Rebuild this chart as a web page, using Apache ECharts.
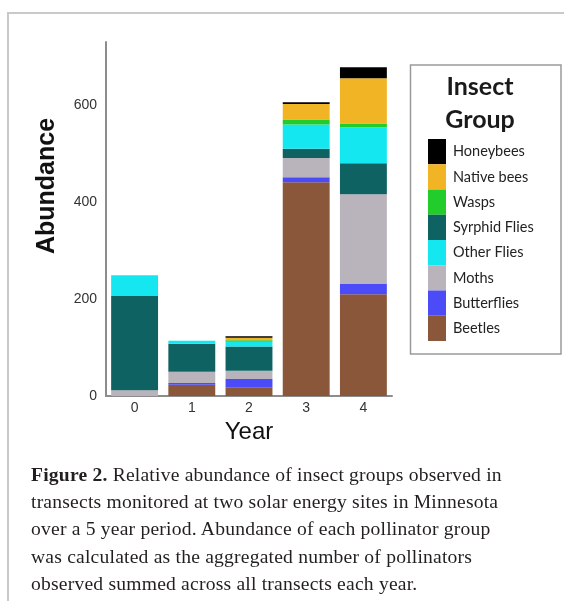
<!DOCTYPE html>
<html>
<head>
<meta charset="utf-8">
<script src="https://cdn.jsdelivr.net/npm/echarts@6/dist/echarts.min.js"></script>
<style>
  html, body { margin: 0; padding: 0; background: #fff; }
  #wrap { position: relative; width: 564px; height: 601px; overflow: hidden; }
  #frame { position: absolute; left: 7px; top: 12px; right: 0; bottom: 0;
           border-left: 2px solid #c9c9c9; border-top: 2px solid #c9c9c9; }
  #chart { position: absolute; left: 0; top: 0; width: 564px; height: 601px; }
  #caption { position: absolute; left: 31px; top: 461px; width: 530px;
             font-family: "Liberation Serif", "DejaVu Serif", serif; font-size: 19.6px;
             letter-spacing: 0.2px; line-height: 27.2px; color: #231f20; white-space: nowrap; }
</style>
</head>
<body>
<div id="wrap">
  <div id="frame"></div>
  <div id="chart"></div>
  <div id="caption"><b>Figure 2.</b> Relative abundance of insect groups observed in<br>transects monitored at two solar energy sites in Minnesota<br>over a 5 year period. Abundance of each pollinator group<br>was calculated as the aggregated number of pollinators<br>observed summed across all transects each year.</div>
</div>
<script>
const years = ['0', '1', '2', '3', '4'];
const beetles     = [0, 23, 17, 441, 210];
const butterflies = [0, 4, 18, 10, 21];
const moths       = [12, 23, 17, 40, 185];
const syrphidFlies= [194, 58, 50, 19, 64];
const otherFlies  = [43, 6, 10, 50, 74];
const wasps       = [0, 0, 3, 10, 8];
const nativeBees  = [0, 0, 5, 32, 93];
const honeybees   = [0, 0, 3, 4, 23];
const yTicks = [0, 200, 400, 600];

const stackOrder = [
  ['Beetles', beetles, '#8b573a'],
  ['Butterflies', butterflies, '#4b4cf7'],
  ['Moths', moths, '#b9b3bc'],
  ['Syrphid Flies', syrphidFlies, '#0e6262'],
  ['Other Flies', otherFlies, '#14e7f0'],
  ['Wasps', wasps, '#22cc2a'],
  ['Native bees', nativeBees, '#f0b424'],
  ['Honeybees', honeybees, '#000000']
];
const legendOrder = ['Honeybees', 'Native bees', 'Wasps', 'Syrphid Flies', 'Other Flies', 'Moths', 'Butterflies', 'Beetles'];

const chart = echarts.init(document.getElementById('chart'), null, { renderer: 'canvas' });
chart.setOption({
  animation: false,
  backgroundColor: 'transparent',
  grid: { left: 106, right: 172, top: 42, bottom: 205, containLabel: false },
  title: {
    text: 'Insect\nGroup',
    left: 475, top: 65, textAlign: 'center',
    textStyle: { fontFamily: 'Lato', fontWeight: 'bold', fontSize: 25, lineHeight: 33, color: '#1a1a1a' }
  },
  legend: {
    orient: 'vertical', left: 428, top: 139, padding: 0,
    itemWidth: 18, itemHeight: 25.25, itemGap: 0, icon: 'rect',
    data: legendOrder,
    selectedMode: false,
    textStyle: { fontFamily: 'Lato', fontSize: 14.5, color: '#222', padding: [0, 0, 0, 2] }
  },
  graphic: [{
    type: 'rect',
    shape: { x: 410.5, y: 65, width: 150.5, height: 289 },
    style: { fill: 'none', stroke: '#9a9a9a', lineWidth: 1.5 }
  }],
  xAxis: {
    type: 'category', data: years,
    name: 'Year', nameLocation: 'middle', nameGap: 22,
    nameTextStyle: { fontFamily: 'Liberation Sans', fontSize: 24, color: '#111' },
    axisLine: { lineStyle: { color: '#8c8c8c', width: 2 } },
    axisTick: { show: false },
    axisLabel: { fontFamily: 'Liberation Sans', fontSize: 14, color: '#333', margin: 5 }
  },
  yAxis: {
    type: 'value', min: 0, max: 730, interval: 200,
    name: 'Abundance', nameLocation: 'middle', nameGap: 46,
    nameTextStyle: { fontFamily: 'Liberation Sans', fontWeight: 'bold', fontSize: 25, color: '#111', padding: [0, 0, 0, 66] },
    axisLine: { show: true, lineStyle: { color: '#8c8c8c', width: 2 } },
    axisTick: { show: false },
    splitLine: { show: false },
    axisLabel: {
      fontFamily: 'Liberation Sans', fontSize: 14, color: '#333', margin: 9,
      formatter: v => (yTicks.indexOf(v) >= 0 ? String(v) : '')
    }
  },
  series: stackOrder.map(([name, data, color]) => ({
    name, type: 'bar', stack: 'total', data,
    barCategoryGap: '18%',
    itemStyle: { color },
    emphasis: { disabled: true }
  }))
});
</script>
</body>
</html>
